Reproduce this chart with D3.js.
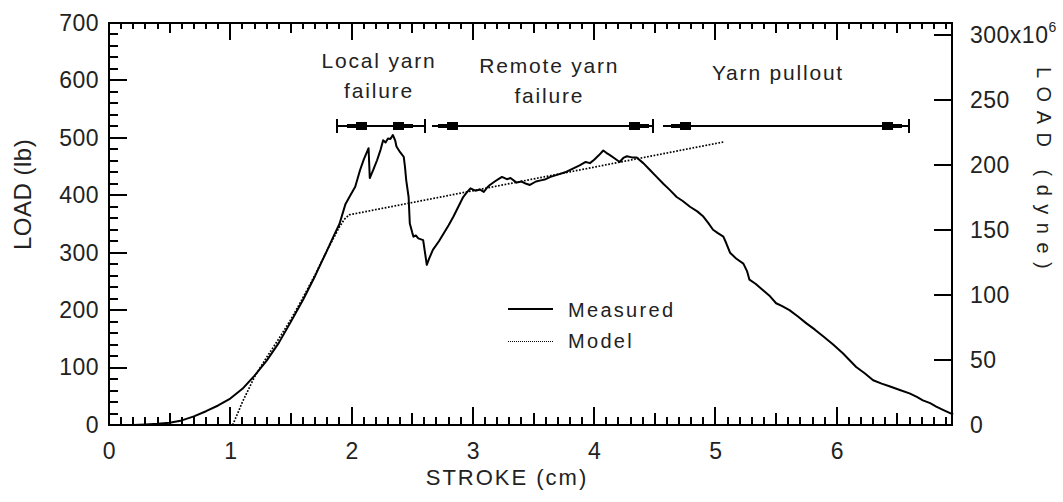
<!DOCTYPE html>
<html>
<head>
<meta charset="utf-8">
<script src="https://cdn.jsdelivr.net/npm/d3@7/dist/d3.min.js"></script>
<style>
  html, body { margin: 0; padding: 0; background: #fff; }
  svg { display: block; }
  text { font-family: "Liberation Sans", Arial, sans-serif; fill: #222; }
</style>
</head>
<body>
<svg id="chart" width="1063" height="502"></svg>
<script>
// ---------------- data ----------------
const measuredStroke = [0.2,0.3,0.4,0.5,0.6,0.7,0.8,0.9,1.0,1.1,1.2,1.3,1.4,1.5,1.6,1.7,1.8,1.85,1.9,1.95,1.99,2.03,2.07,2.1,2.14,2.15,2.18,2.21,2.24,2.26,2.28,2.30,2.32,2.34,2.36,2.37,2.40,2.43,2.44,2.45,2.47,2.48,2.5,2.51,2.53,2.55,2.59,2.62,2.64,2.67,2.72,2.76,2.80,2.84,2.88,2.92,2.95,2.98,3.02,3.06,3.09,3.12,3.14,3.18,3.21,3.24,3.28,3.31,3.36,3.4,3.44,3.47,3.52,3.56,3.60,3.64,3.7,3.76,3.82,3.88,3.93,3.965,4.0,4.04,4.075,4.1,4.13,4.17,4.21,4.24,4.27,4.31,4.35,4.405,4.46,4.515,4.57,4.625,4.68,4.73,4.79,4.85,4.90,4.94,4.98,5.02,5.065,5.09,5.12,5.17,5.23,5.26,5.28,5.33,5.39,5.45,5.50,5.55,5.61,5.68,5.75,5.82,5.89,5.97,6.05,6.10,6.16,6.23,6.30,6.37,6.44,6.52,6.60,6.66,6.71,6.77,6.82,6.88,6.93,6.96];
const measuredLoad = [0,1,2,4,8,15,24,34,46,63,86,112,143,180,218,260,305,328,350,385,400,415,444,462,482,430,445,461,480,496,492,499,498,505,495,485,475,467,450,427,397,351,335,328,330,325,322,279,290,305,320,334,348,363,380,397,405,412,408,410,406,414,418,424,428,432,428,430,422,424,420,418,424,426,428,432,436,440,446,452,458,456,462,470,478,474,470,464,458,465,468,466,466,456,444,432,420,409,397,390,380,372,363,352,340,334,328,316,300,290,281,268,253,246,235,224,212,207,200,189,177,166,154,140,125,114,101,90,78,72,67,61,55,49,43,38,32,26,21,19];

const modelStroke = [1.02,1.1,1.2,1.3,1.4,1.5,1.6,1.7,1.8,1.9,1.94,1.98,5.07];
const modelLoad   = [0,40,84,118,150,184,222,262,305,345,358,366,493];

// phase annotations (stroke, cm)
const phaseNames  = [["Local yarn","failure"],["Remote yarn","failure"],["Yarn pullout"]];
const phaseLabelX = [2.226, 3.63, 5.515];
const phaseFrom   = [1.882, 2.66, 4.57];
const phaseTo     = [2.605, 4.485, 6.598];
const phaseCapL   = [true, false, false];
const phaseStartMark = [2.077, 2.825, 4.749];
const phaseEndMark   = [2.385, 4.328, 6.411];
const phaseBarLoad = 520;

const xMajorTicks = [0,1,2,3,4,5,6];
const yMajorTicks = [0,100,200,300,400,500,600,700];
const y2MajorTicks = [0,50,100,150,200,250,300];
const legendNames = ["Measured","Model"];

// ---------------- layout ----------------
const L = 109, R = 952, T = 23, B = 425;
const svg = d3.select("#chart");
svg.append("rect").attr("width",1063).attr("height",502).attr("fill","#fff");

const x = d3.scaleLinear().domain([0, 6.95]).range([L, R]);
const y = d3.scaleLinear().domain([0, 700]).range([B, T]);
const y2 = d3.scaleLinear().domain([0, 309]).range([B, T]);

const xTickIdx = d3.range(0, 70, 1);
const xTickLen = i => (i % 10 === 0 ? 18 : (i % 5 === 0 ? 12 : 8));
const xTickLenTop = i => (i % 10 === 0 ? 17 : (i % 5 === 0 ? 10 : 6));
const yTickVals = d3.range(0, 701, 20);
const rx = i => Math.round(x(i / 10));

const tg = svg.append("g").attr("stroke", "#000").attr("stroke-width", 2).attr("shape-rendering", "crispEdges");
tg.append("g").selectAll("line").data(xTickIdx).join("line")
  .attr("x1", rx).attr("x2", rx).attr("y1", B).attr("y2", i => B - xTickLen(i));
tg.append("g").selectAll("line").data(xTickIdx).join("line")
  .attr("x1", rx).attr("x2", rx).attr("y1", T).attr("y2", i => T + xTickLenTop(i));
tg.append("g").selectAll("line").data(yTickVals).join("line")
  .attr("x1", L).attr("x2", v => L + (v % 100 === 0 ? 18 : 9))
  .attr("y1", v => Math.round(y(v))).attr("y2", v => Math.round(y(v)));
tg.append("g").selectAll("line").data(y2MajorTicks).join("line")
  .attr("x1", R).attr("x2", R - 18)
  .attr("y1", v => Math.round(y2(v))).attr("y2", v => Math.round(y2(v)));
// frame
tg.append("rect").attr("x", L).attr("y", T).attr("width", R - L).attr("height", B - T).attr("fill", "none");

function styleAxis(g) {
  g.select(".domain").remove();
  g.selectAll(".tick line").remove();
  g.selectAll("text").attr("font-family", "Liberation Sans, Arial, sans-serif")
    .attr("font-size", 23).attr("fill", "#222").attr("letter-spacing", 0.5);
}

svg.append("g").attr("transform", `translate(0,${B})`)
  .call(d3.axisBottom(x).tickValues(xMajorTicks).tickSize(0).tickPadding(18).tickFormat(d3.format("d")))
  .call(styleAxis);
svg.append("g").attr("transform", `translate(${L},0)`)
  .call(d3.axisLeft(y).tickValues(yMajorTicks).tickSize(0).tickPadding(10).tickFormat(d3.format("d")))
  .call(styleAxis);
const rightAxis = svg.append("g").attr("transform", `translate(${R},0)`)
  .call(d3.axisRight(y2).tickValues(y2MajorTicks).tickSize(0).tickPadding(18)
    .tickFormat(d => d === 300 ? "300x10" : String(d)))
  .call(styleAxis);
rightAxis.selectAll(".tick text").filter(d => d === 300)
  .append("tspan").attr("dy", "-0.75em").attr("font-size", 14).text("6");

// axis titles
svg.append("text").attr("x", 507).attr("y", 485).attr("text-anchor", "middle")
  .attr("font-size", 22).attr("letter-spacing", 2).text("STROKE (cm)");
svg.append("text").attr("transform", "translate(31,250) rotate(-90)").attr("text-anchor", "start")
  .attr("font-size", 24).attr("letter-spacing", 0.5).text("LOAD (lb)");
svg.append("text").attr("transform", "translate(1037,67) rotate(90)").attr("text-anchor", "start")
  .attr("font-size", 20).attr("letter-spacing", 8.5).text("LOAD (dyne)");

// lines
const line = d3.line().x(d => x(d[0])).y(d => y(d[1]));
const measured = measuredStroke.map((s, i) => [s, measuredLoad[i]]);
const model = modelStroke.map((s, i) => [s, modelLoad[i]]);

svg.append("path").datum(model).attr("d", line)
  .attr("fill", "none").attr("stroke", "#000").attr("stroke-width", 1.7)
  .attr("stroke-dasharray", "1.7,1.6");
svg.append("path").datum(measured).attr("d", line)
  .attr("fill", "none").attr("stroke", "#000").attr("stroke-width", 2)
  .attr("stroke-linejoin", "round");

// phase annotations
const by = Math.round(y(phaseBarLoad));
phaseNames.forEach((lines, i) => {
  const cx = x(phaseLabelX[i]);
  const firstBase = i === 0 ? 68 : (i === 1 ? 73 : 80);
  lines.forEach((t, j) => {
    svg.append("text").attr("x", cx).attr("y", firstBase + j * 30).attr("text-anchor", "middle")
      .attr("font-size", 21).attr("letter-spacing", 1.8).text(t);
  });
  const g = svg.append("g").attr("shape-rendering", "crispEdges");
  g.append("line").attr("x1", x(phaseFrom[i])).attr("x2", x(phaseTo[i])).attr("y1", by).attr("y2", by)
    .attr("stroke", "#000").attr("stroke-width", 2);
  if (phaseCapL[i]) {
    g.append("line").attr("x1", Math.round(x(phaseFrom[i]))).attr("x2", Math.round(x(phaseFrom[i]))).attr("y1", by - 7).attr("y2", by + 7)
      .attr("stroke", "#000").attr("stroke-width", 2);
  }
  g.append("line").attr("x1", Math.round(x(phaseTo[i]))).attr("x2", Math.round(x(phaseTo[i]))).attr("y1", by - 7).attr("y2", by + 7)
    .attr("stroke", "#000").attr("stroke-width", 2);
  const sm = Math.round(x(phaseStartMark[i])), em = Math.round(x(phaseEndMark[i]));
  g.append("rect").attr("x", sm - 5).attr("y", by - 4).attr("width", 11).attr("height", 8).attr("fill", "#000");
  g.append("rect").attr("x", sm - 14).attr("y", by - 2).attr("width", 9).attr("height", 4).attr("fill", "#000");
  g.append("rect").attr("x", em - 5).attr("y", by - 4).attr("width", 11).attr("height", 8).attr("fill", "#000");
  g.append("rect").attr("x", em + 6).attr("y", by - 2).attr("width", 9).attr("height", 4).attr("fill", "#000");
});

// legend
const lg = svg.append("g");
lg.append("line").attr("x1", 508).attr("x2", 553).attr("y1", 309).attr("y2", 309)
  .attr("stroke", "#000").attr("stroke-width", 2).attr("shape-rendering", "crispEdges");
lg.append("line").attr("x1", 508).attr("x2", 553).attr("y1", 341.5).attr("y2", 341.5)
  .attr("stroke", "#000").attr("stroke-width", 1).attr("stroke-dasharray", "1,1");
lg.append("text").attr("x", 568).attr("y", 317).attr("font-size", 20).attr("letter-spacing", 2.3).text(legendNames[0]);
lg.append("text").attr("x", 568).attr("y", 348).attr("font-size", 20).attr("letter-spacing", 2.3).text(legendNames[1]);
</script>
</body>
</html>
